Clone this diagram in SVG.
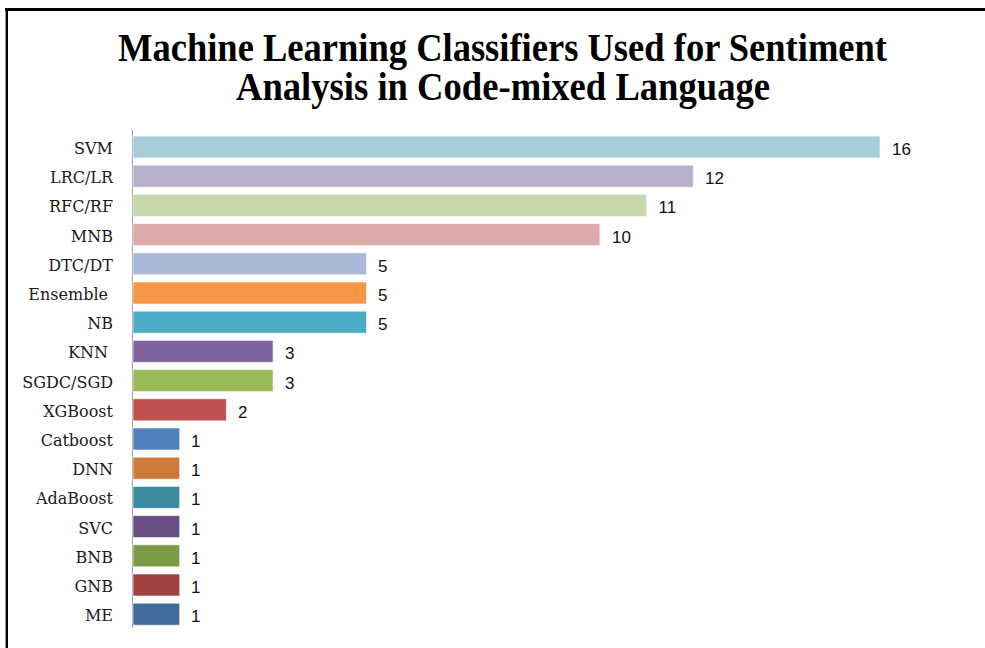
<svg xmlns="http://www.w3.org/2000/svg" width="985" height="648" viewBox="0 0 985 648">
<style>
.title{font-family:"Liberation Serif","Times New Roman",serif;font-weight:bold;font-size:39px;fill:#000}
.lbl{font-family:"DejaVu Serif","Liberation Serif",serif;font-size:16px;fill:#1a1a1a;text-anchor:end}
.val{font-family:"Liberation Sans",Arial,sans-serif;font-size:17px;fill:#111}
.bar{stroke:#ffffff;stroke-opacity:0.6;stroke-width:1}
</style>
<rect x="0" y="0" width="985" height="648" fill="#fff"/>
<g id="frame">
<line x1="5" y1="9.5" x2="985" y2="9.5" stroke="#000" stroke-width="3"/>
<line x1="6.8" y1="8" x2="6.8" y2="648" stroke="#000" stroke-width="2.4"/>
</g>
<g id="title">
<text class="title" x="502.5" y="61" text-anchor="middle" textLength="769" lengthAdjust="spacingAndGlyphs">Machine Learning Classifiers Used for Sentiment</text>
<text class="title" x="503" y="100" text-anchor="middle" textLength="534" lengthAdjust="spacingAndGlyphs">Analysis in Code-mixed Language</text>
</g>
<g id="axis">
<line x1="132.5" y1="130" x2="132.5" y2="628" stroke="#a0a0a0" stroke-width="1"/>
</g>
<g id="bar-SVM"><rect class="bar" x="133" y="136" width="747" height="22" fill="#a7cdd9"/><text class="lbl" x="113" y="154">SVM</text><text class="val" x="892" y="155">16</text></g>
<g id="bar-LRC"><rect class="bar" x="133" y="165.2" width="560.3" height="22" fill="#b9aecb"/><text class="lbl" x="113" y="183.2">LRC/LR</text><text class="val" x="705" y="184.2">12</text></g>
<g id="bar-RFC"><rect class="bar" x="133" y="194.4" width="513.6" height="22" fill="#c6d8aa"/><text class="lbl" x="113" y="212.4">RFC/RF</text><text class="val" x="658.5" y="213.4">11</text></g>
<g id="bar-MNB"><rect class="bar" x="133" y="223.6" width="466.9" height="22" fill="#dbaaa9"/><text class="lbl" x="113" y="241.6">MNB</text><text class="val" x="612" y="242.6">10</text></g>
<g id="bar-DTC"><rect class="bar" x="133" y="252.8" width="233.5" height="22" fill="#a9b9d7"/><text class="lbl" x="113" y="270.8">DTC/DT</text><text class="val" x="378" y="271.8">5</text></g>
<g id="bar-Ensemble"><rect class="bar" x="133" y="282" width="233.5" height="22" fill="#f79646"/><text class="lbl" x="108" y="300">Ensemble</text><text class="val" x="378" y="301">5</text></g>
<g id="bar-NB"><rect class="bar" x="133" y="311.2" width="233.5" height="22" fill="#4bacc6"/><text class="lbl" x="113" y="329.2">NB</text><text class="val" x="378" y="330.2">5</text></g>
<g id="bar-KNN"><rect class="bar" x="133" y="340.4" width="140.1" height="22" fill="#8064a2"/><text class="lbl" x="108" y="358.4">KNN</text><text class="val" x="285" y="359.4">3</text></g>
<g id="bar-SGDC"><rect class="bar" x="133" y="369.6" width="140.1" height="22" fill="#9bbb59"/><text class="lbl" x="113" y="387.6">SGDC/SGD</text><text class="val" x="285" y="388.6">3</text></g>
<g id="bar-XGBoost"><rect class="bar" x="133" y="398.8" width="93.4" height="22" fill="#c0504d"/><text class="lbl" x="113" y="416.8">XGBoost</text><text class="val" x="238" y="417.8">2</text></g>
<g id="bar-Catboost"><rect class="bar" x="133" y="428" width="46.7" height="22" fill="#4f81bd"/><text class="lbl" x="113" y="446">Catboost</text><text class="val" x="191" y="447">1</text></g>
<g id="bar-DNN"><rect class="bar" x="133" y="457.2" width="46.7" height="22" fill="#cd7a38"/><text class="lbl" x="113" y="475.2">DNN</text><text class="val" x="191" y="476.2">1</text></g>
<g id="bar-AdaBoost"><rect class="bar" x="133" y="486.4" width="46.7" height="22" fill="#3b8c9f"/><text class="lbl" x="113" y="504.4">AdaBoost</text><text class="val" x="191" y="505.4">1</text></g>
<g id="bar-SVC"><rect class="bar" x="133" y="515.6" width="46.7" height="22" fill="#6a4e86"/><text class="lbl" x="113" y="533.6">SVC</text><text class="val" x="191" y="534.6">1</text></g>
<g id="bar-BNB"><rect class="bar" x="133" y="544.8" width="46.7" height="22" fill="#7d9a47"/><text class="lbl" x="113" y="562.8">BNB</text><text class="val" x="191" y="563.8">1</text></g>
<g id="bar-GNB"><rect class="bar" x="133" y="574" width="46.7" height="22" fill="#9f413e"/><text class="lbl" x="113" y="592">GNB</text><text class="val" x="191" y="593">1</text></g>
<g id="bar-ME"><rect class="bar" x="133" y="603.2" width="46.7" height="22" fill="#416b9d"/><text class="lbl" x="113" y="621.2">ME</text><text class="val" x="191" y="622.2">1</text></g>
</svg>
